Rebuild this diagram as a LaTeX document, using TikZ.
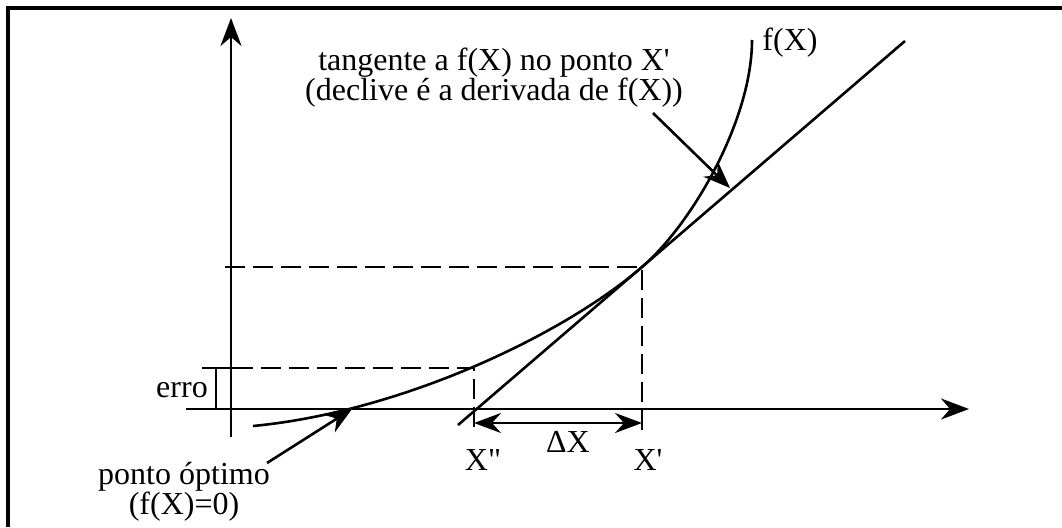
\documentclass[tikz,border=0pt]{standalone}
\usepackage{fontspec}
\newfontfamily\labelfont{Liberation Serif}
\usetikzlibrary{positioning, arrows.meta}

\begin{document}
\begin{tikzpicture}[x=1pt, y=-1pt, font=\labelfont\fontsize{32}{30}\selectfont]
    \tikzstyle{frame} = [line width=4pt]
    \tikzstyle{axis} = [line width=2.6pt, -{Stealth[length=28pt, width=21pt, inset=9pt]}]
    \tikzstyle{curve} = [line width=2.6pt]
    \tikzstyle{guide} = [line width=2.6pt, dash pattern=on 20pt off 8pt]
    \tikzstyle{arrow} = [line width=2.6pt, -{Stealth[length=27pt, width=21pt, inset=9pt]}]
    \tikzstyle{dimarrow} = [line width=2.6pt, {Stealth[length=27pt, width=20pt, inset=9pt]}-{Stealth[length=27pt, width=20pt, inset=9pt]}]

    \useasboundingbox (0,0) rectangle (1062,527);
    \draw [frame] (8,527) -- (8,8) -- (1062,8);

    % axes
    \coordinate (xstart) at (186,409);
    \coordinate (xend) at (969,409);
    \coordinate (ybot) at (231,437);
    \coordinate (ytop) at (231,18);
    \draw [axis] (xstart) -- (xend);
    \draw [axis] (ybot) -- (ytop);

    % points on the curve
    \coordinate (fstart) at (253,426);
    \coordinate (opt) at (352,409);
    \coordinate (xpp) at (474,368);
    \coordinate (xp) at (642,267);
    \coordinate (ftop) at (752,40);
    \draw [curve] (fstart) .. controls (400,412) and (562,336) .. (xp)
        .. controls (692,224) and (752,120) .. (ftop);

    % tangent at X'
    \coordinate (tlow) at (458,425);
    \coordinate (thigh) at (905,41);
    \draw [curve] (tlow) -- (thigh);

    % guides
    \coordinate (xppfoot) at (474,434);
    \coordinate (xpfoot) at (642,434);
    \draw [guide] (261,368) -- (xpp) -- (xppfoot);
    \draw [guide] (225,267) -- (xp) -- (xpfoot);

    % erro bracket
    \coordinate (errtop) at (202,368);
    \draw [curve] (errtop) -- (253,368);
    \draw [curve] (216,368) -- (216,409);
    \node (errlbl) at (182,390) {erro};

    % delta X
    \coordinate (dxa) at (474,423);
    \coordinate (dxb) at (642,423);
    \draw [dimarrow] (dxa) -- (dxb);
    \node (dxlbl) at (568,442) {ΔX};
    \node (xpplbl) at (483,460) {X"};
    \node (xplbl) at (648,460) {X'};

    % labels
    \node (tanlbl) at (494,78) [align=center] {tangente a f(X) no ponto X'\\(declive é a derivada de f(X))};
    \node (flbl) at (790,43) {f(X)};
    \node (optlbl) at (184,492) [align=center] {ponto óptimo\\(f(X)=0)};

    \coordinate (tanfrom) at (653,113);
    \coordinate (tanpt) at (730,188);
    \draw [arrow] (tanfrom) -- (tanpt);
    \coordinate (optfrom) at (267,463);
    \draw [arrow] (optfrom) -- (opt);
\end{tikzpicture}
\end{document}
